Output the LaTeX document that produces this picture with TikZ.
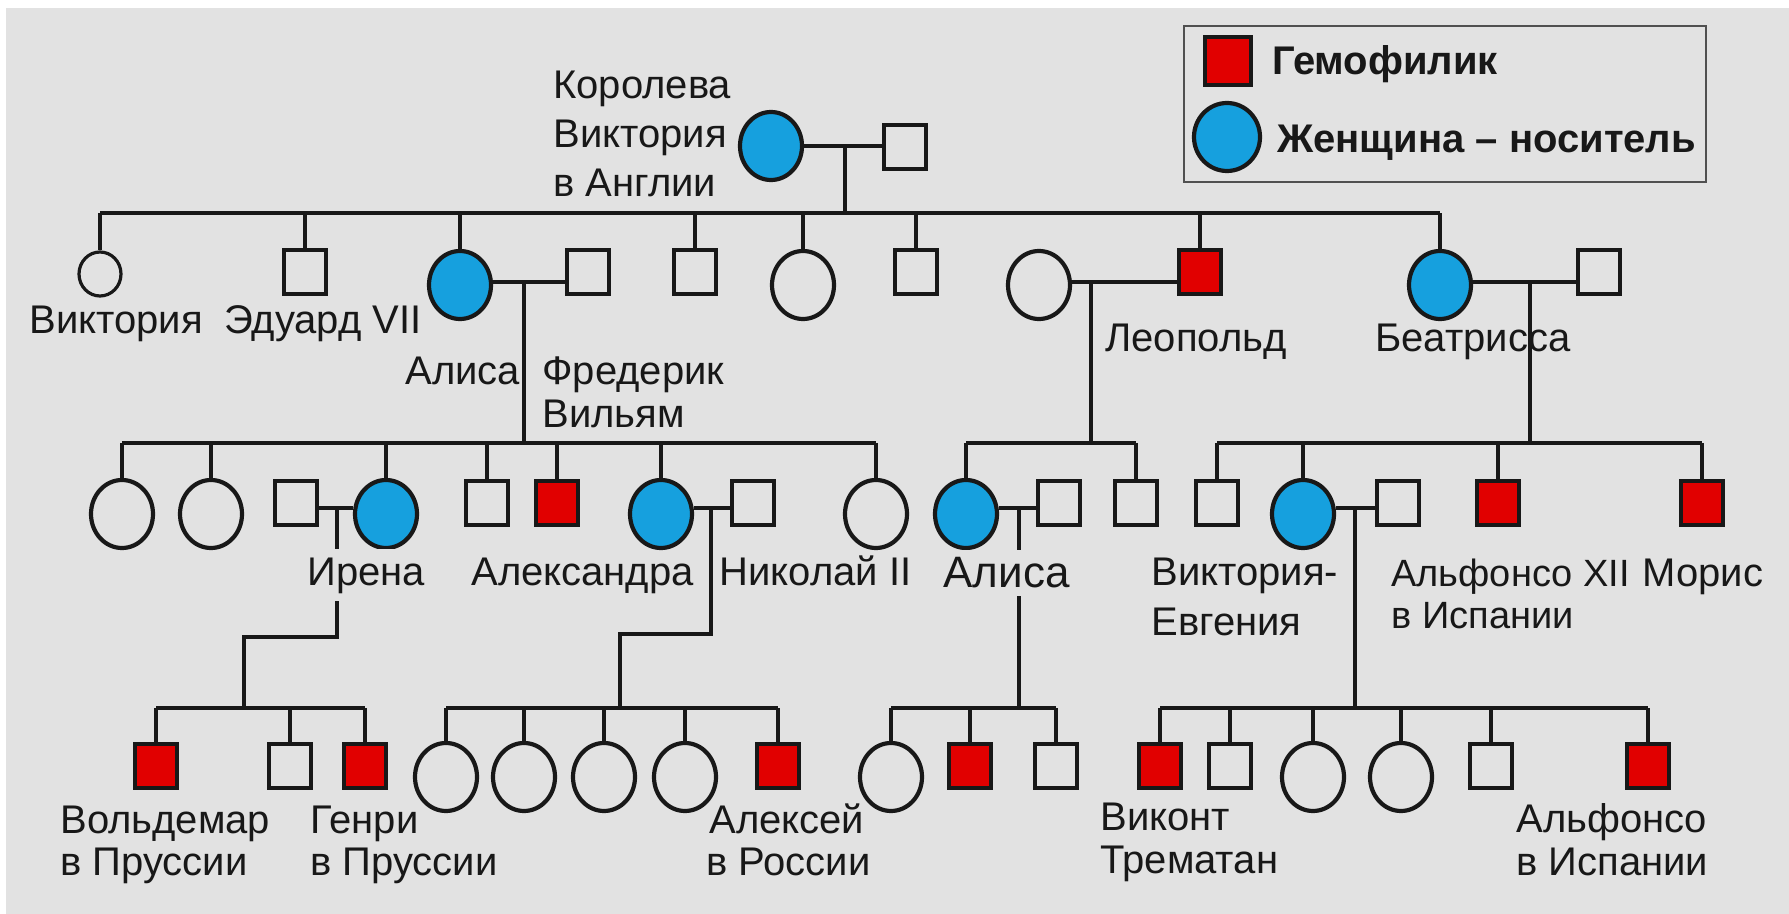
\documentclass[tikz,border=0pt]{standalone}
\usepackage{fontspec}
\setmainfont{Liberation Sans}
\usetikzlibrary{shapes.geometric}
\definecolor{bg}{RGB}{226,226,226}
\definecolor{carrierblue}{RGB}{22,160,222}
\definecolor{hemored}{RGB}{225,0,0}
\definecolor{ink}{RGB}{24,24,24}
\definecolor{frame}{RGB}{80,80,80}
\begin{document}
\begin{tikzpicture}[x=0.5pt,y=-0.5pt,
  fem/.style={ellipse, draw=ink, line width=2.1pt, minimum width=31pt, minimum height=34pt, inner sep=0pt},
  femsmall/.style={ellipse, draw=ink, line width=1.6pt, minimum width=21pt, minimum height=22pt, inner sep=0pt},
  male/.style={rectangle, draw=ink, line width=1.7pt, minimum width=21pt, minimum height=22pt, inner sep=0pt},
  carr/.style={fill=carrierblue},
  hemo/.style={fill=hemored},
  lbl/.style={anchor=base west, inner sep=0pt, text=ink, font=\fontsize{20pt}{24pt}\selectfont},
  lblbig/.style={lbl, font=\fontsize{22pt}{26pt}\selectfont},
  lblsmall/.style={lbl, font=\fontsize{19pt}{23pt}\selectfont},
  cut/.style={fill=bg, inner xsep=1pt, inner ysep=4pt},
  lblb/.style={lbl, font=\fontsize{20pt}{24pt}\selectfont\bfseries},
  link/.style={draw=ink, line width=1.6pt},
]
\useasboundingbox (0,0) rectangle (1789,914);
\fill[white] (0,0) rectangle (1789,914);
\fill[bg] (6,8) rectangle (1789,914);

% ---------- legend ----------
\draw[frame, line width=1.2pt] (1184,26) rectangle (1706,182);
\node[male, hemo, minimum width=23pt, minimum height=24pt] (legH) at (1228,61) {};
\node[fem, carr, minimum width=33pt, minimum height=34pt] (legC) at (1227,137) {};
\node[lblb] (legHt) at (1272,75) {Гемофилик};
\node[lblb] (legCt) at (1277,153) {Женщина – носитель};

% ---------- generation 0 ----------
\node[fem, carr] (qv) at (771,146) {};
\node[male] (qvh) at (905,147) {};

% ---------- generation 1 ----------
\node[femsmall] (r1a) at (100,274) {};
\node[male] (r1b) at (305,272) {};
\node[fem, carr] (r1c) at (460,285) {};
\node[male] (r1d) at (588,272) {};
\node[male] (r1e) at (695,272) {};
\node[fem] (r1f) at (803,285) {};
\node[male] (r1g) at (916,272) {};
\node[fem] (r1h) at (1039,285) {};
\node[male, hemo] (r1i) at (1200,272) {};
\node[fem, carr] (r1j) at (1440,285) {};
\node[male] (r1k) at (1599,272) {};

% ---------- generation 2 ----------
\node[fem] (r2a) at (122,514) {};
\node[fem] (r2b) at (211,514) {};
\node[male] (r2c) at (296,503) {};
\node[fem, carr] (r2d) at (386,514) {};
\node[male] (r2e) at (487,503) {};
\node[male, hemo] (r2f) at (557,503) {};
\node[fem, carr] (r2g) at (661,514) {};
\node[male] (r2h) at (753,503) {};
\node[fem] (r2i) at (876,514) {};
\node[fem, carr] (r2j) at (966,514) {};
\node[male] (r2k) at (1059,503) {};
\node[male] (r2l) at (1136,503) {};
\node[male] (r2m) at (1217,503) {};
\node[fem, carr] (r2n) at (1303,514) {};
\node[male] (r2o) at (1398,503) {};
\node[male, hemo] (r2p) at (1498,503) {};
\node[male, hemo] (r2q) at (1702,503) {};

% ---------- generation 3 ----------
\node[male, hemo] (r3a) at (156,766) {};
\node[male] (r3b) at (290,766) {};
\node[male, hemo] (r3c) at (365,766) {};
\node[fem] (r3d) at (446,777) {};
\node[fem] (r3e) at (524,777) {};
\node[fem] (r3f) at (604,777) {};
\node[fem] (r3g) at (685,777) {};
\node[male, hemo] (r3h) at (778,766) {};
\node[fem] (r3i) at (891,777) {};
\node[male, hemo] (r3j) at (970,766) {};
\node[male] (r3k) at (1056,766) {};
\node[male, hemo] (r3l) at (1160,766) {};
\node[male] (r3m) at (1230,766) {};
\node[fem] (r3n) at (1313,777) {};
\node[fem] (r3o) at (1401,777) {};
\node[male] (r3p) at (1491,766) {};
\node[male, hemo] (r3q) at (1648,766) {};

% ---------- junctions and sibling levels ----------
\coordinate (j0) at (845,146);
\coordinate (j1) at (524,282);
\coordinate (j2) at (1091,282);
\coordinate (j3) at (1530,282);
\coordinate (j4) at (337,508);
\coordinate (j5) at (711,508);
\coordinate (j6) at (1019,508);
\coordinate (j7) at (1355,508);
\coordinate (s1) at (0,213);
\coordinate (s2) at (0,443);
\coordinate (s3) at (0,708);
\coordinate (k4) at (244,637);
\coordinate (k5) at (620,634);

% marriages
\draw[link] (qv.east |- j0) -- (qvh.west |- j0);
\draw[link] (r1c.east |- j1) -- (r1d.west |- j1);
\draw[link] (r1h.east |- j2) -- (r1i.west |- j2);
\draw[link] (r1j.east |- j3) -- (r1k.west |- j3);
\draw[link] (r2c.east |- j4) -- (r2d.west |- j4);
\draw[link] (r2g.east |- j5) -- (r2h.west |- j5);
\draw[link] (r2j.east |- j6) -- (r2k.west |- j6);
\draw[link] (r2n.east |- j7) -- (r2o.west |- j7);

% descent lines
\draw[link] (j0) -- (j0 |- s1);
\draw[link] (j1) -- (j1 |- s2);
\draw[link] (j2) -- (j2 |- s2);
\draw[link] (j3) -- (j3 |- s2);
\draw[link] (j4) -- (j4 |- k4) -- (k4) -- (k4 |- s3);
\draw[link] (j5) -- (j5 |- k5) -- (k5) -- (k5 |- s3);
\draw[link] (j6) -- (j6 |- s3);
\draw[link] (j7) -- (j7 |- s3);

% sibling lines
\draw[link] (r1a.north |- s1) -- (r1j.north |- s1);
\draw[link] (r2a.north |- s2) -- (r2i.north |- s2);
\draw[link] (r2j.north |- s2) -- (r2l.north |- s2);
\draw[link] (r2m.north |- s2) -- (r2q.north |- s2);
\draw[link] (r3a.north |- s3) -- (r3c.north |- s3);
\draw[link] (r3d.north |- s3) -- (r3h.north |- s3);
\draw[link] (r3i.north |- s3) -- (r3k.north |- s3);
\draw[link] (r3l.north |- s3) -- (r3q.north |- s3);

% child drops
\foreach \n in {r1a,r1b,r1c,r1e,r1f,r1g,r1i,r1j}
  \draw[link] (\n.north) -- (\n.north |- s1);
\foreach \n in {r2a,r2b,r2d,r2e,r2f,r2g,r2i,r2j,r2l,r2m,r2n,r2p,r2q}
  \draw[link] (\n.north) -- (\n.north |- s2);
\foreach \n in {r3a,r3b,r3c,r3d,r3e,r3f,r3g,r3h,r3i,r3j,r3k,r3l,r3m,r3n,r3o,r3p,r3q}
  \draw[link] (\n.north) -- (\n.north |- s3);

% ---------- labels ----------
\node[lbl] (t0a) at (553,99) {Королева};
\node[lbl] (t0b) at (553,148) {Виктория};
\node[lbl] (t0c) at (553,197) {в Англии};

\node[lbl] (t1a) at (29,334) {Виктория};
\node[lbl] (t1b) at (224,334) {Эдуард VII};
\node[lbl] (t1c) at (405,385) {Алиса};
\node[lbl] (t1d) at (542,385) {Фредерик};
\node[lbl] (t1e) at (542,428) {Вильям};
\node[lbl] (t1f) at (1105,352) {Леопольд};
\node[lbl] (t1g) at (1375,352) {Беатрисса};

\node[lbl, cut] (t2a) at (305,585) {Ирена};
\node[lbl] (t2b) at (471,585) {Александра};
\node[lbl] (t2c) at (719,585) {Николай II};
\node[lblbig, cut] (t2d) at (941,588) {Алиса};
\node[lbl] (t2e) at (1151,585) {Виктория-};
\node[lbl] (t2f) at (1151,635) {Евгения};
\node[lblsmall] (t2g) at (1391,586) {Альфонсо XII};
\node[lblsmall] (t2h) at (1391,628) {в Испании};
\node[lbl] (t2i) at (1642,586) {Морис};

\node[lbl] (t3a) at (60,833) {Вольдемар};
\node[lbl] (t3b) at (60,875) {в Пруссии};
\node[lbl] (t3c) at (310,833) {Генри};
\node[lbl] (t3d) at (310,875) {в Пруссии};
\node[lbl] (t3e) at (709,833) {Алексей};
\node[lbl] (t3f) at (706,875) {в России};
\node[lbl] (t3g) at (1100,830) {Виконт};
\node[lbl] (t3h) at (1100,873) {Трематан};
\node[lbl] (t3i) at (1516,832) {Альфонсо};
\node[lbl] (t3j) at (1516,875) {в Испании};
\end{tikzpicture}
\end{document}
